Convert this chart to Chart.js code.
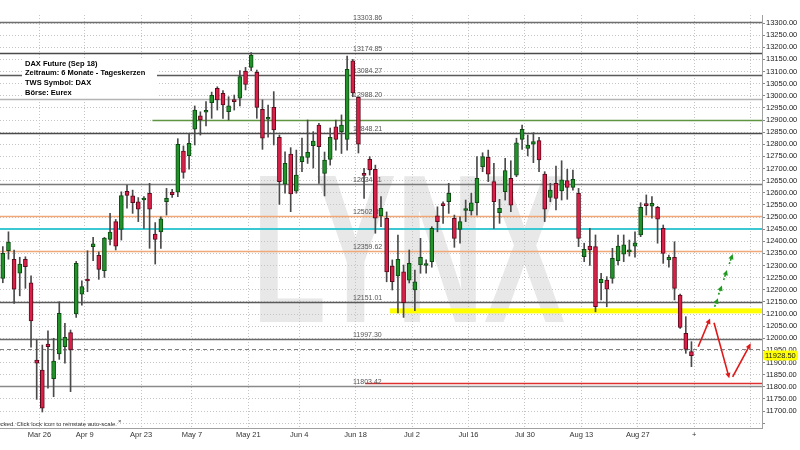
<!DOCTYPE html>
<html><head><meta charset="utf-8">
<script src="https://cdn.jsdelivr.net/npm/chart.js@4.4.0/dist/chart.umd.min.js"></script>
<style>html,body{margin:0;padding:0;background:#fff;}#wrap{width:800px;height:450px;position:relative;}</style>
</head><body><div id="wrap"><canvas id="c" width="800" height="450"></canvas></div>
<script>
// trading days (candles) followed by empty future days
const dates = [
"Mar 15","Mar 16","Mar 19","Mar 20","Mar 21","Mar 22","Mar 23","Mar 26","Mar 27","Mar 28","Mar 29",
"Apr 3","Apr 4","Apr 5","Apr 6","Apr 9","Apr 10","Apr 11","Apr 12","Apr 13","Apr 16","Apr 17","Apr 18","Apr 19","Apr 20","Apr 23","Apr 24","Apr 25","Apr 26","Apr 27","Apr 30",
"May 2","May 3","May 4","May 7","May 8","May 9","May 10","May 11","May 14","May 15","May 16","May 17","May 18","May 22","May 23","May 24","May 25","May 28","May 29","May 30","May 31",
"Jun 1","Jun 4","Jun 5","Jun 6","Jun 7","Jun 8","Jun 11","Jun 12","Jun 13","Jun 14","Jun 15","Jun 18","Jun 19","Jun 20","Jun 21","Jun 22","Jun 25","Jun 26","Jun 27","Jun 28","Jun 29",
"Jul 2","Jul 3","Jul 4","Jul 5","Jul 6","Jul 9","Jul 10","Jul 11","Jul 12","Jul 13","Jul 16","Jul 17","Jul 18","Jul 19","Jul 20","Jul 23","Jul 24","Jul 25","Jul 26","Jul 27","Jul 30","Jul 31",
"Aug 1","Aug 2","Aug 3","Aug 6","Aug 7","Aug 8","Aug 9","Aug 10","Aug 13","Aug 14","Aug 15","Aug 16","Aug 17","Aug 20","Aug 21","Aug 22","Aug 23","Aug 24","Aug 27","Aug 28","Aug 29","Aug 30","Aug 31",
"Sep 3","Sep 4","Sep 5","Sep 6","Sep 7",
"Sep 10","Sep 11","Sep 12","Sep 13","Sep 14","Sep 17","Sep 18","Sep 19","Sep 20","Sep 21","Sep 24","Sep 25"];

const opens = [12247,12361,12326,12268,12326,12229,11910,11869,11976,11833,11935,11965,12023,12100,12182,12240,12378,12342,12279,12408,12481,12449,12606,12587,12563,12570,12598,12430,12439,12563,12603,12602,12772,12753,12862,12917,12932,12971,13031,13010,12934,12983,12990,13102,13117,13097,12944,12903,12952,12829,12635,12759,12607,12728,12746,12794,12879,12680,12738,12872,12852,12820,13144,12994,12676,12738,12697,12504,12495,12298,12257,12274,12240,12199,12302,12300,12316,12505,12551,12563,12495,12449,12527,12525,12559,12707,12746,12646,12518,12604,12660,12673,12820,12783,12800,12815,12677,12581,12639,12608,12650,12622,12598,12336,12380,12378,12229,12240,12247,12320,12347,12356,12380,12426,12551,12545,12540,12453,12323,12334,12178,12020,11945];
const highs = [12378,12439,12364,12334,12336,12257,11993,11972,12031,12000,12151,12062,12034,12317,12237,12361,12416,12356,12416,12515,12490,12604,12632,12611,12580,12584,12639,12477,12501,12618,12614,12823,12793,12842,12958,12934,12976,13015,13037,13021,12996,13003,13104,13117,13178,13106,12983,12962,13017,12838,12769,12786,12776,12825,12900,12852,12886,12768,12867,12900,12921,13164,13150,12994,12701,12749,12714,12584,12521,12323,12426,12302,12364,12281,12412,12323,12460,12542,12563,12639,12508,12501,12570,12598,12749,12765,12776,12721,12573,12742,12732,12825,12879,12838,12848,12829,12687,12639,12710,12732,12697,12694,12618,12392,12453,12426,12268,12254,12371,12426,12426,12405,12439,12559,12591,12584,12544,12467,12343,12398,12182,12089,11986];
const lows = [12229,12326,12144,12175,12206,11963,11748,11696,11794,11759,11913,11897,11780,12086,12136,12192,12320,12243,12251,12385,12364,12405,12536,12515,12481,12453,12371,12306,12371,12508,12581,12584,12660,12697,12797,12838,12876,12907,12941,12907,12900,12941,12958,13024,13103,12907,12779,12829,12797,12552,12598,12522,12598,12687,12721,12702,12639,12587,12714,12776,12762,12776,12996,12764,12577,12673,12433,12460,12233,12199,12105,12086,12228,12114,12268,12268,12293,12439,12474,12515,12375,12392,12481,12508,12508,12687,12646,12453,12474,12570,12522,12666,12779,12752,12724,12687,12481,12563,12529,12570,12573,12611,12378,12316,12300,12109,12158,12130,12227,12302,12316,12339,12334,12419,12508,12495,12392,12309,12293,12158,12041,11938,11883];
const closes = [12350,12397,12202,12306,12295,12072,11897,11712,11965,11906,12103,12004,11952,12309,12213,12236,12389,12284,12413,12438,12380,12588,12589,12559,12532,12576,12532,12408,12492,12577,12592,12800,12684,12804,12941,12900,12936,13002,12983,12962,12958,12976,13079,13047,13168,12952,12825,12910,12859,12646,12721,12595,12673,12749,12767,12813,12790,12735,12829,12820,12879,13109,13012,12800,12672,12694,12495,12536,12274,12233,12326,12147,12309,12233,12334,12303,12453,12481,12547,12598,12412,12481,12531,12559,12660,12749,12677,12563,12536,12691,12549,12806,12862,12797,12811,12735,12532,12611,12577,12653,12622,12655,12412,12367,12364,12130,12243,12202,12330,12380,12385,12364,12394,12540,12547,12556,12491,12350,12334,12206,12045,11954,11928.5];

const tickDates  = ["Mar 26","Apr 9","Apr 23","May 7","May 22","Jun 4","Jun 18","Jul 2","Jul 16","Jul 30","Aug 13","Aug 27","Sep 10","Sep 24"];
const tickLabels = ["Mar 26","Apr 9","Apr 23","May 7","May 21","Jun 4","Jun 18","Jul 2","Jul 16","Jul 30","Aug 13","Aug 27","+",""];

const levelValues = [13303.86,13174.85,13084.27,12988.20,12848.21,12634.11,12502.39,12359.62,12151.01,11997.30,11803.42];
const levelColors = ["#6e6e6e","#4a4a4a","#5a5a5a","#b4b4b4","#4a4a4a","#7a7a7a","#f0a878","#f0a878","#5a5a5a","#6a6a6a","#8a8a8a"];
const greenLevel = 12900, greenStart = "Apr 25";
const cyanLevel = 12450;
const yellowLevel = 12113, yellowStart = "Jun 26";
const redLevel = 11816, redStart = "Jun 19";
const dashedLevel = 11955;
const lastPrice = 11928.50;

// forecast arrows: [date index position, price]
const redArrows = [[[123.2,11965],[125.3,12082]],[[126.0,12064],[128.7,11835]],[[129.3,11841],[132.5,11979]]];
const greenArrows = [[[126.1,12130],[126.7,12165]],[[126.8,12180],[127.4,12218]],[[127.7,12240],[128.3,12282]],[[128.7,12306],[129.3,12348]]];

const infoLines = ["DAX Future (Sep 18)","Zeitraum: 6 Monate - Tageskerzen","TWS Symbol: DAX","Börse: Eurex"];

const nC = closes.length;
const idx = d => dates.indexOf(d);
const bodies = closes.map((c,i)=>({x:i, y:[opens[i], c]}));
const wicks = closes.map((c,i)=>({x:i, y:[lows[i], highs[i]]}));
const upCol = "#22922a", dnCol = "#dc1f48";
const isUp = i => closes[i] >= opens[i];

function arrow(ctx, x1,y1,x2,y2, col, dash){
  ctx.save();
  ctx.strokeStyle = col; ctx.fillStyle = col; ctx.lineWidth = 1.6;
  ctx.setLineDash(dash||[]);
  const a = Math.atan2(y2-y1, x2-x1), h = 6;
  const bx = x2 - Math.cos(a)*h*0.8, by = y2 - Math.sin(a)*h*0.8;
  ctx.beginPath(); ctx.moveTo(x1,y1); ctx.lineTo(bx,by); ctx.stroke();
  ctx.setLineDash([]);
  ctx.beginPath();
  ctx.moveTo(x2,y2);
  ctx.lineTo(x2 - h*Math.cos(a-0.45), y2 - h*Math.sin(a-0.45));
  ctx.lineTo(x2 - h*Math.cos(a+0.45), y2 - h*Math.sin(a+0.45));
  ctx.closePath(); ctx.fill();
  ctx.restore();
}

const overlay = {
  id:'overlay',
  beforeDraw(chart){
    const ctx = chart.ctx;
    ctx.save();
    ctx.fillStyle = '#e8e8e8';
    ctx.font = 'bold 200px "Liberation Sans"';
    const w = ctx.measureText('LYNX').width;
    ctx.translate(252, 322);
    ctx.scale(313/w, 152/(0.716*200));
    ctx.fillText('LYNX', 0, 0);
    ctx.restore();
  },
  beforeDatasetsDraw(chart){
    const ctx = chart.ctx, xs = chart.scales.x, ys = chart.scales.y, ca = chart.chartArea;
    ctx.save();
    const hline = (v, x0, col, w, dash) => {
      const y = Math.round(ys.getPixelForValue(v)) + (w%2 ? 0.5 : 0);
      ctx.strokeStyle = col; ctx.lineWidth = w; ctx.setLineDash(dash||[]);
      ctx.beginPath(); ctx.moveTo(x0, y); ctx.lineTo(ca.right, y); ctx.stroke();
      ctx.setLineDash([]);
      return y;
    };
    hline(greenLevel, xs.getPixelForValue(idx(greenStart)-0.5), '#5f9440', 1.5);
    hline(cyanLevel, ca.left, '#3cc8d2', 2);
    hline(dashedLevel, ca.left, '#808080', 1, [4,3]);
    levelValues.forEach((v,i)=>{
      const y = hline(v, ca.left, levelColors[i], 1.5);
    });
    // yellow band
    const yy = ys.getPixelForValue(yellowLevel);
    ctx.fillStyle = '#ffff00';
    const yx0 = xs.getPixelForValue(idx(yellowStart)-0.4);
    ctx.fillRect(yx0, yy-2.5, ca.right - yx0, 5);
    hline(redLevel, xs.getPixelForValue(idx(redStart)+0.2), '#e03030', 1.5);
    // labels on levels
    ctx.font = '7px "Liberation Sans"';
    ctx.fillStyle = '#555';
    ctx.textBaseline = 'bottom';
    ctx.textAlign = 'left';
    levelValues.forEach(v=>{
      const y = ys.getPixelForValue(v);
      ctx.fillText(v.toFixed(2), 353, y - 0.5);
    });
    ctx.restore();
  },
  afterDatasetsDraw(chart){
    const ctx = chart.ctx, xs = chart.scales.x, ys = chart.scales.y, ca = chart.chartArea;
    const px = p => [xs.getPixelForValue(p[0]), ys.getPixelForValue(p[1])];
    redArrows.forEach(s=>{ const a=px(s[0]), b=px(s[1]); arrow(ctx,a[0],a[1],b[0],b[1],'#e01818'); });
    greenArrows.forEach(s=>{ const a=px(s[0]), b=px(s[1]); arrow(ctx,a[0],a[1],b[0],b[1],'#1f9a1f',[2,1.5]); });
    // info box
    ctx.save();
    ctx.fillStyle = '#fff';
    ctx.fillRect(22, 58, 135, 39);
    ctx.fillStyle = '#000';
    ctx.font = 'bold 7.5px "Liberation Sans"';
    ctx.textBaseline = 'alphabetic';
    infoLines.forEach((t,i)=> ctx.fillText(t, 25, 65.5 + i*9.7));
    // last price tag
    const yp = ys.getPixelForValue(lastPrice);
    ctx.fillStyle = '#ffff00';
    ctx.beginPath();
    if (ctx.roundRect) ctx.roundRect(763, yp-5, 35, 10, 3); else ctx.rect(763, yp-5, 35, 10);
    ctx.fill();
    ctx.fillStyle = '#222';
    ctx.font = '7.5px "Liberation Sans"';
    ctx.textBaseline = 'middle';
    ctx.fillText(lastPrice.toFixed(2), 765, yp+0.5);
    // bottom note
    ctx.fillStyle = '#333';
    ctx.font = '6px "Liberation Sans"';
    ctx.textAlign = 'right';
    ctx.textBaseline = 'middle';
    ctx.fillText('Scale is locked. Click lock icon to reinstate auto-scale.', 117, 424);
    ctx.textAlign = 'left';
    ctx.fillText('\u00d7', 118, 421);
    ctx.restore();
  }
};

new Chart(document.getElementById('c'), {
  type:'bar',
  data:{
    datasets:[
      { data: bodies, grouped:false, barThickness:4, minBarLength:2,
        backgroundColor: c => isUp(c.dataIndex) ? upCol : dnCol,
        borderColor: c => isUp(c.dataIndex) ? '#0d4a12' : '#5a0c1c',
        borderWidth:1, borderSkipped:false },
      { data: wicks, grouped:false, barThickness:1, backgroundColor:'#4a4a4a', borderWidth:0 }
    ]
  },
  options:{
    responsive:false, animation:false, devicePixelRatio:1,
    layout:{ padding:{ top:15, left:0, right:0, bottom:0 } },
    plugins:{ legend:{display:false}, tooltip:{enabled:false} },
    scales:{
      x:{ type:'linear', min:-0.5, max:dates.length-0.5, offset:false,
        afterBuildTicks: s => { s.ticks = tickDates.map(d=>({value: idx(d)-0.5})); },
        afterFit: s => { s.height = 22; },
        ticks:{ autoSkip:false, maxRotation:0, padding:2, color:'#333',
          font:{family:'Liberation Sans', size:7.5},
          callback: (v,i) => tickLabels[i] },
        grid:{ offset:false, drawTicks:false, color:'#c4c4c4', lineWidth:1 },
        border:{ display:true, color:'#a0a0a0', dash:[1,2] }
      },
      y:{ type:'linear', position:'right', min:11630, max:13333,
        afterBuildTicks: s => { const t=[]; for(let v=11650; v<=13300; v+=50) t.push({value:v}); s.ticks=t; },
        afterFit: s => { s.width = 38; },
        ticks:{ padding:1, color:'#222', font:{family:'Liberation Sans', size:7.5},
          callback: v => v < 11700 ? '' : v.toFixed(2) },
        grid:{ drawTicks:true, tickLength:3, color:'#c4c4c4', tickColor:'#888' },
        border:{ display:true, color:'#a0a0a0', dash:[1,2] }
      }
    }
  },
  plugins:[overlay]
});
</script></body></html>
